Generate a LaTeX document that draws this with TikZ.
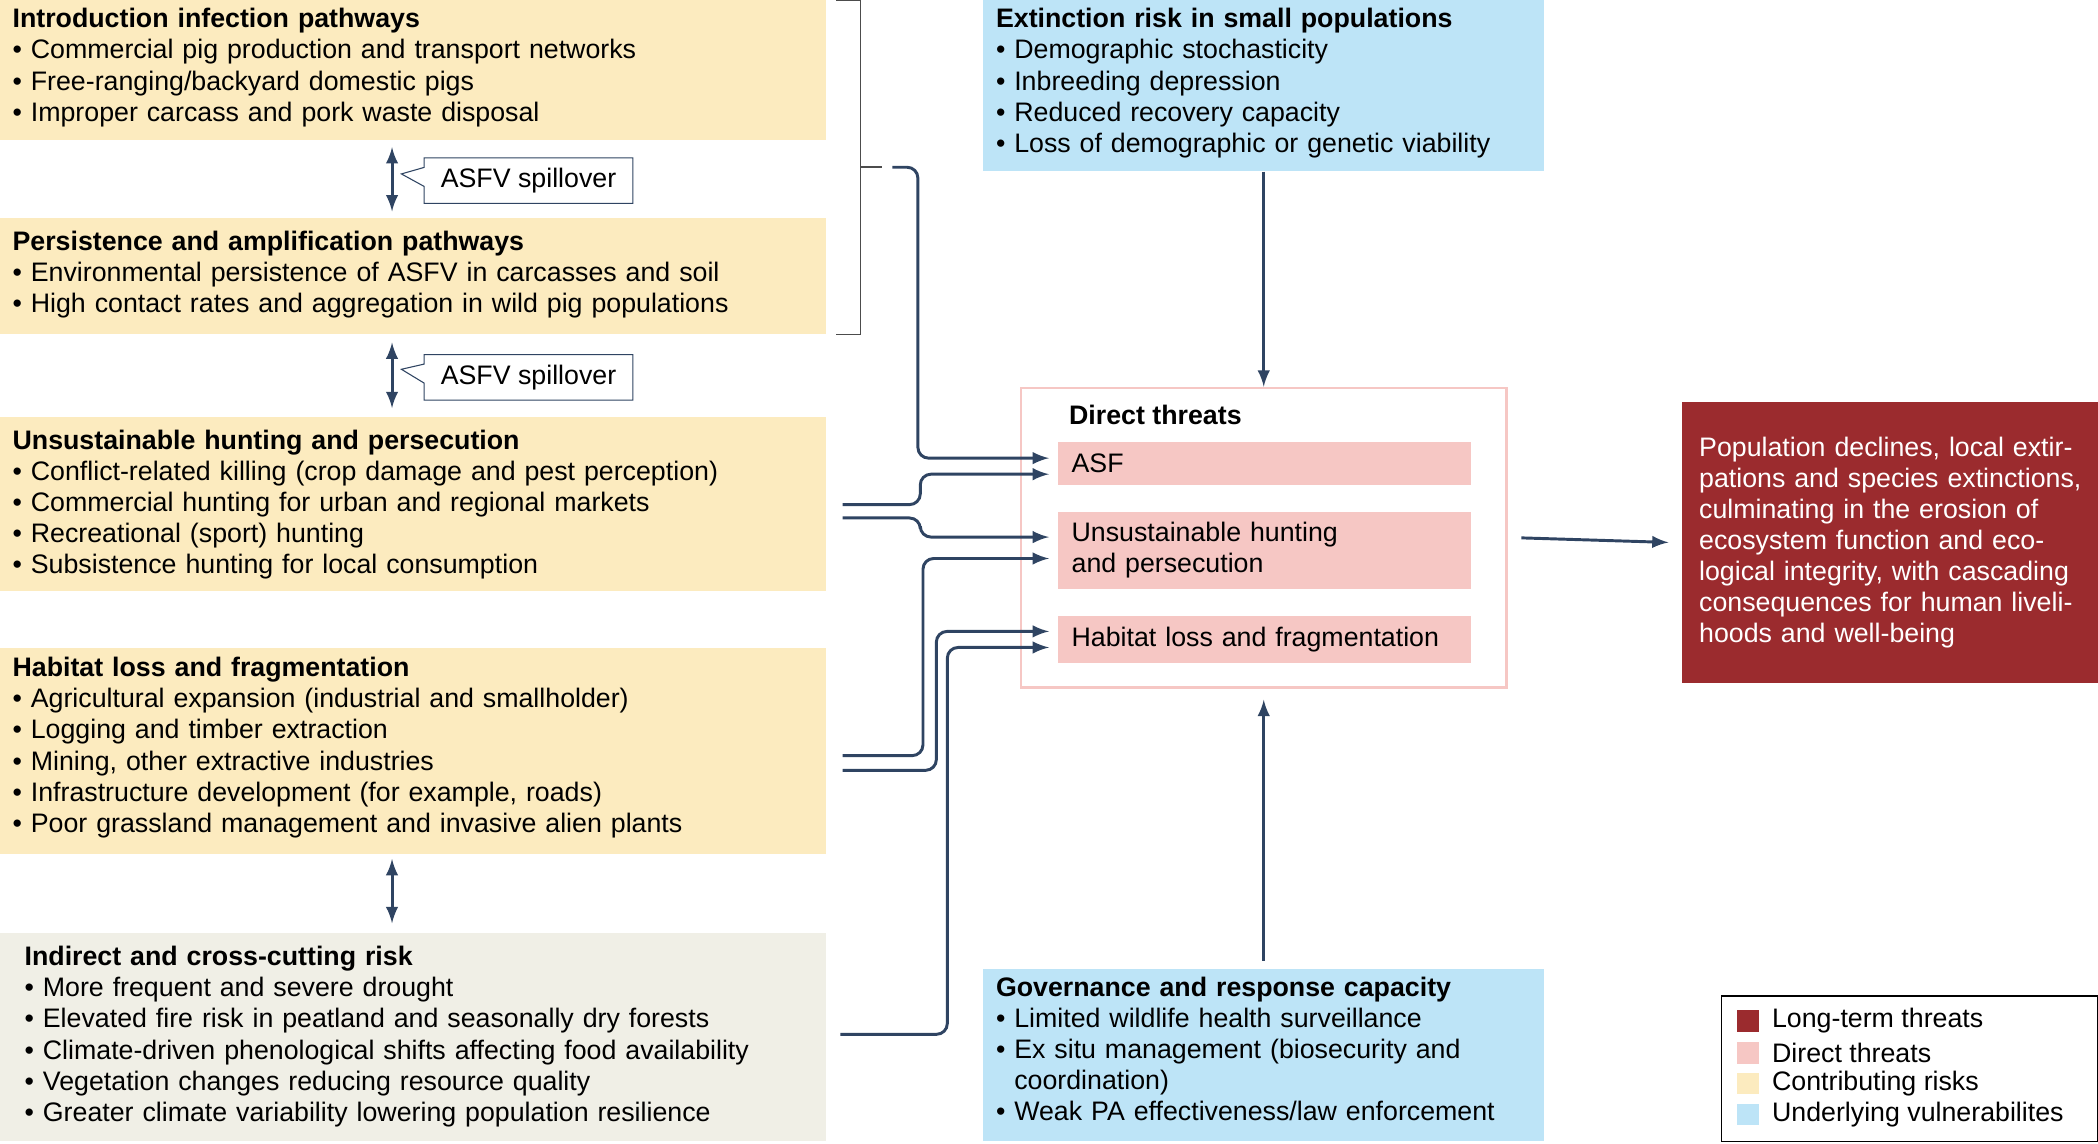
\documentclass[tikz,border=0pt]{standalone}
\usepackage{fontspec}
\setmainfont{Liberation Sans}
\usetikzlibrary{shapes.callouts}
\definecolor{navy}{HTML}{2F4462}
\definecolor{contrib}{HTML}{FCEBBF}
\definecolor{vuln}{HTML}{BDE4F7}
\definecolor{direct}{HTML}{F6C7C4}
\definecolor{longterm}{HTML}{9B2B2E}
\definecolor{indirect}{HTML}{F0EFE6}
\tikzset{
  box/.style={anchor=north west, inner xsep=4.5pt, inner ysep=1pt, align=left,
    font=\fontsize{10}{11.6}\selectfont, text width=#1},
  bar/.style={anchor=north west, fill=direct, inner xsep=5pt, align=left,
    font=\fontsize{10}{11.6}\selectfont, minimum width=154.5pt, text width=144pt},
  spill/.style={rectangle callout, draw=navy, fill=white, font=\fontsize{10}{12}\selectfont,
    minimum width=78pt, minimum height=17pt},
  link/.style={draw=navy, line width=1.1pt, -latex, rounded corners=4pt},
  dbl/.style={draw=navy, line width=1.1pt, latex-latex},
  key/.style={anchor=west, font=\fontsize{10}{12}\selectfont, inner sep=1pt},
  sq/.style={anchor=west, minimum size=8pt, inner sep=0pt}
}
\newcommand{\itm}{\textbullet~}
\begin{document}
\begin{tikzpicture}[x=0.5pt,y=-0.5pt]
\useasboundingbox (0,0) rectangle (1568,855);
% contributing risks
\fill[contrib] (0,0) rectangle (617,105);
\node(intro) at (0,4)[box=300pt]{\textbf{Introduction infection pathways}\\
\itm Commercial pig production and transport networks\\
\itm Free-ranging/backyard domestic pigs\\
\itm Improper carcass and pork waste disposal};
\fill[contrib] (0,163) rectangle (617,250);
\node(persist) at (0,170)[box=300pt]{\textbf{Persistence and amplification pathways}\\
\itm Environmental persistence of ASFV in carcasses and soil\\
\itm High contact rates and aggregation in wild pig populations};
\fill[contrib] (0,312) rectangle (617,442);
\node(hunting) at (0,319)[box=300pt]{\textbf{Unsustainable hunting and persecution}\\
\itm Conflict-related killing (crop damage and pest perception)\\
\itm Commercial hunting for urban and regional markets\\
\itm Recreational (sport) hunting\\
\itm Subsistence hunting for local consumption};
\fill[contrib] (0,484) rectangle (617,638);
\node(habitat) at (0,489)[box=300pt]{\textbf{Habitat loss and fragmentation}\\
\itm Agricultural expansion (industrial and smallholder)\\
\itm Logging and timber extraction\\
\itm Mining, other extractive industries\\
\itm Infrastructure development (for example, roads)\\
\itm Poor grassland management and invasive alien plants};
\fill[indirect] (0,697) rectangle (617,853);
\node(indirect) at (9,705)[box=300pt]{\textbf{Indirect and cross-cutting risk}\\
\itm More frequent and severe drought\\
\itm Elevated fire risk in peatland and seasonally dry forests\\
\itm Climate-driven phenological shifts affecting food availability\\
\itm Vegetation changes reducing resource quality\\
\itm Greater climate variability lowering population resilience};
% spillover
\coordinate(s1a) at (293,110); \coordinate(s1b) at (293,158);
\draw[dbl] (s1a) -- (s1b);
\node(spill1)[spill, callout absolute pointer={(300,130)}] at (395,135){ASFV spillover};
\coordinate(s2a) at (293,256); \coordinate(s2b) at (293,305);
\draw[dbl] (s2a) -- (s2b);
\node(spill2)[spill, callout absolute pointer={(300,276)}] at (395,282){ASFV spillover};
\coordinate(s3a) at (293,642); \coordinate(s3b) at (293,690);
\draw[dbl] (s3a) -- (s3b);
% bracket
\draw[black!70, line width=0.6pt] (625,0) -- (643,0) -- (643,250) -- (625,250);
\coordinate(brk) at (643,125);
\draw[black!70, line width=0.6pt] (brk) -- (659,125);
% underlying vulnerabilities
\fill[vuln] (735,0) rectangle (1154,128);
\node(extinct) at (735,4)[box=200pt]{\textbf{Extinction risk in small populations}\\
\itm Demographic stochasticity\\
\itm Inbreeding depression\\
\itm Reduced recovery capacity\\
\itm Loss of demographic or genetic viability};
\fill[vuln] (735,724) rectangle (1154,853);
\node(govern) at (735,728)[box=200pt]{\textbf{Governance and response capacity}\\
\itm Limited wildlife health surveillance\\
\itm Ex situ management (biosecurity and\\
\phantom{\itm}coordination)\\
\itm Weak PA effectiveness/law enforcement};
% direct threats
\node(frame) at (762,289)[anchor=north west, draw=direct, line width=1pt, minimum width=181.5pt, minimum height=112pt]{};
\node(dtitle) at (792,310)[anchor=west, font=\fontsize{10}{12}\selectfont\bfseries]{Direct threats};
\node(asf) at (790,330)[bar, minimum height=16pt]{ASF};
\node(hunt) at (790,382)[bar, minimum height=29pt]{Unsustainable hunting\\and persecution};
\node(hab) at (790,460)[bar, minimum height=17.5pt]{Habitat loss and fragmentation};
% long-term threats
\node(decline) at (1257,300)[anchor=north west, fill=longterm, text=white, minimum width=155.5pt, minimum height=105pt,
  text width=143pt, align=left, font=\fontsize{10}{11.6}\selectfont]{Population declines, local extirpations and species extinctions, culminating in the erosion of ecosystem function and ecological integrity, with cascading consequences for human livelihoods and well-being};
% connectors
\path[link] (667,125) -- (686,125) |- ([shift={(-3pt,2pt)}]asf.west);
\path[link] ([shift={(5.5pt,0pt)}]hunting.east) -- ++(29pt,0) |- ([shift={(-3pt,-4pt)}]asf.west);
\path[link] ([shift={(5.5pt,-5pt)}]hunting.east) -- ++(29pt,0) |- ([shift={(-3pt,5pt)}]hunt.west);
\path[link] ([shift={(5.5pt,-3pt)}]habitat.east) -- ++(30pt,0) |- ([shift={(-3pt,-3pt)}]hunt.west);
\path[link] ([shift={(5.5pt,-8.5pt)}]habitat.east) -- ++(35pt,0) |- ([shift={(-3pt,3pt)}]hab.west);
\path[link] (628,773) -- (708,773) |- ([shift={(-3pt,-3pt)}]hab.west);
\path[link] ([yshift=-4pt]extinct.south -| frame.north) -- (frame.north);
\path[link] ([yshift=5pt]govern.north -| frame.south) -- ([yshift=-4pt]frame.south);
\path[link] ([xshift=5pt]frame.east) -- ([xshift=-5pt]decline.west);
% legend
\node(legend) at (1286,744)[anchor=north west, draw=black, minimum width=140.5pt, minimum height=54.5pt]{};
\node(k1) at (1298,763)[sq, fill=longterm]{};
\node(l1) at (1322,763)[key]{Long-term threats};
\node(k2) at (1298,787)[sq, fill=direct]{};
\node(l2) at (1322,787)[key]{Direct threats};
\node(k3) at (1298,810)[sq, fill=contrib]{};
\node(l3) at (1322,810)[key]{Contributing risks};
\node(k4) at (1298,833)[sq, fill=vuln]{};
\node(l4) at (1322,833)[key]{Underlying vulnerabilites};
\end{tikzpicture}
\end{document}
